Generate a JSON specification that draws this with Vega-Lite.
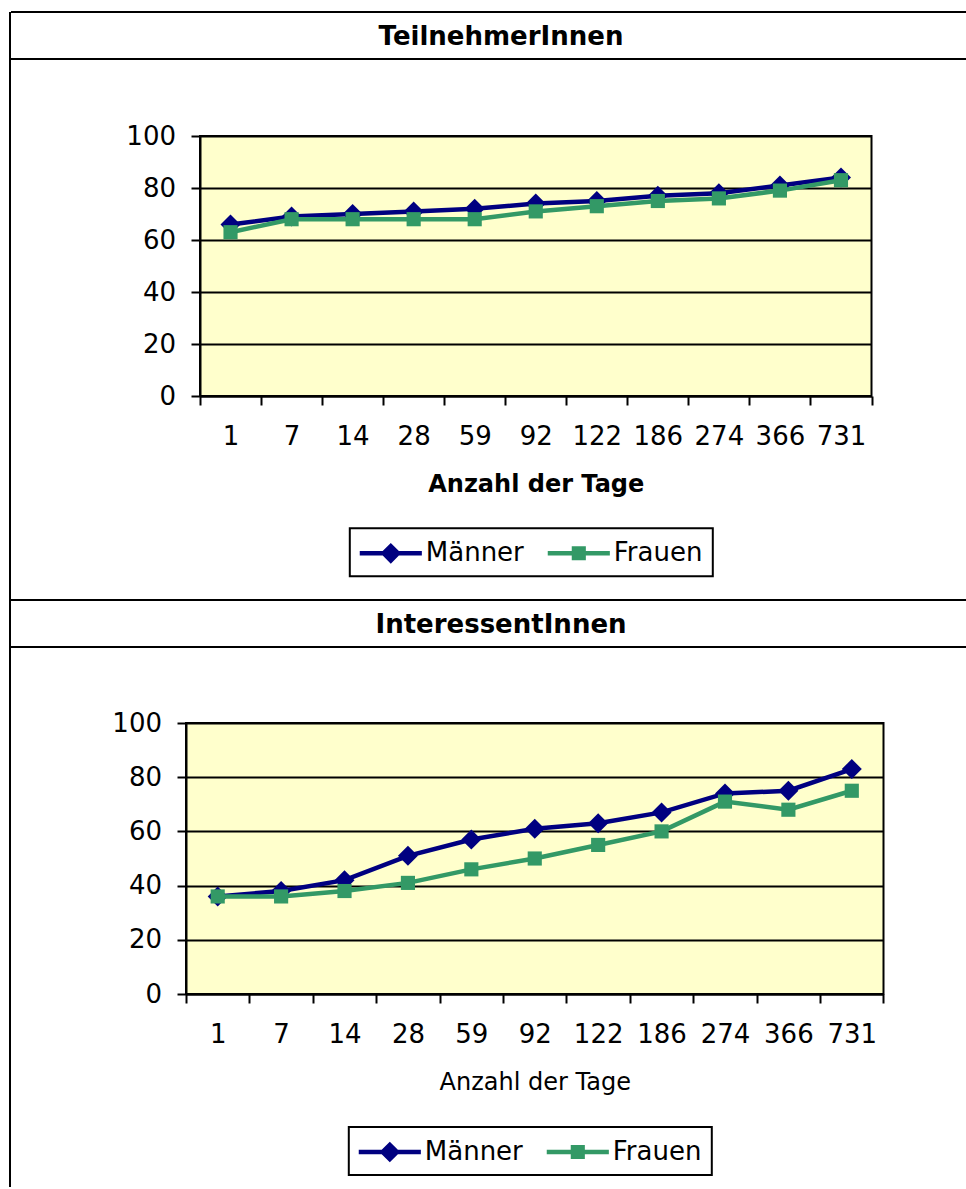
{
  "$schema": "https://vega.github.io/schema/vega-lite/v6.json",
  "padding": {"left": 9, "top": 11, "right": 0, "bottom": 0},
  "background": "white",
  "datasets": {
    "anteile": [
      {"gruppe": "TeilnehmerInnen", "geschlecht": "Männer", "tage": "1", "anteil": 66},
      {"gruppe": "TeilnehmerInnen", "geschlecht": "Männer", "tage": "7", "anteil": 69},
      {"gruppe": "TeilnehmerInnen", "geschlecht": "Männer", "tage": "14", "anteil": 70},
      {"gruppe": "TeilnehmerInnen", "geschlecht": "Männer", "tage": "28", "anteil": 71},
      {"gruppe": "TeilnehmerInnen", "geschlecht": "Männer", "tage": "59", "anteil": 72},
      {"gruppe": "TeilnehmerInnen", "geschlecht": "Männer", "tage": "92", "anteil": 74},
      {"gruppe": "TeilnehmerInnen", "geschlecht": "Männer", "tage": "122", "anteil": 75},
      {"gruppe": "TeilnehmerInnen", "geschlecht": "Männer", "tage": "186", "anteil": 77},
      {"gruppe": "TeilnehmerInnen", "geschlecht": "Männer", "tage": "274", "anteil": 78},
      {"gruppe": "TeilnehmerInnen", "geschlecht": "Männer", "tage": "366", "anteil": 81},
      {"gruppe": "TeilnehmerInnen", "geschlecht": "Männer", "tage": "731", "anteil": 84},
      {"gruppe": "TeilnehmerInnen", "geschlecht": "Frauen", "tage": "1", "anteil": 63},
      {"gruppe": "TeilnehmerInnen", "geschlecht": "Frauen", "tage": "7", "anteil": 68},
      {"gruppe": "TeilnehmerInnen", "geschlecht": "Frauen", "tage": "14", "anteil": 68},
      {"gruppe": "TeilnehmerInnen", "geschlecht": "Frauen", "tage": "28", "anteil": 68},
      {"gruppe": "TeilnehmerInnen", "geschlecht": "Frauen", "tage": "59", "anteil": 68},
      {"gruppe": "TeilnehmerInnen", "geschlecht": "Frauen", "tage": "92", "anteil": 71},
      {"gruppe": "TeilnehmerInnen", "geschlecht": "Frauen", "tage": "122", "anteil": 73},
      {"gruppe": "TeilnehmerInnen", "geschlecht": "Frauen", "tage": "186", "anteil": 75},
      {"gruppe": "TeilnehmerInnen", "geschlecht": "Frauen", "tage": "274", "anteil": 76},
      {"gruppe": "TeilnehmerInnen", "geschlecht": "Frauen", "tage": "366", "anteil": 79},
      {"gruppe": "TeilnehmerInnen", "geschlecht": "Frauen", "tage": "731", "anteil": 83},
      {"gruppe": "InteressentInnen", "geschlecht": "Männer", "tage": "1", "anteil": 36},
      {"gruppe": "InteressentInnen", "geschlecht": "Männer", "tage": "7", "anteil": 38},
      {"gruppe": "InteressentInnen", "geschlecht": "Männer", "tage": "14", "anteil": 42},
      {"gruppe": "InteressentInnen", "geschlecht": "Männer", "tage": "28", "anteil": 51},
      {"gruppe": "InteressentInnen", "geschlecht": "Männer", "tage": "59", "anteil": 57},
      {"gruppe": "InteressentInnen", "geschlecht": "Männer", "tage": "92", "anteil": 61},
      {"gruppe": "InteressentInnen", "geschlecht": "Männer", "tage": "122", "anteil": 63},
      {"gruppe": "InteressentInnen", "geschlecht": "Männer", "tage": "186", "anteil": 67},
      {"gruppe": "InteressentInnen", "geschlecht": "Männer", "tage": "274", "anteil": 74},
      {"gruppe": "InteressentInnen", "geschlecht": "Männer", "tage": "366", "anteil": 75},
      {"gruppe": "InteressentInnen", "geschlecht": "Männer", "tage": "731", "anteil": 83},
      {"gruppe": "InteressentInnen", "geschlecht": "Frauen", "tage": "1", "anteil": 36},
      {"gruppe": "InteressentInnen", "geschlecht": "Frauen", "tage": "7", "anteil": 36},
      {"gruppe": "InteressentInnen", "geschlecht": "Frauen", "tage": "14", "anteil": 38},
      {"gruppe": "InteressentInnen", "geschlecht": "Frauen", "tage": "28", "anteil": 41},
      {"gruppe": "InteressentInnen", "geschlecht": "Frauen", "tage": "59", "anteil": 46},
      {"gruppe": "InteressentInnen", "geschlecht": "Frauen", "tage": "92", "anteil": 50},
      {"gruppe": "InteressentInnen", "geschlecht": "Frauen", "tage": "122", "anteil": 55},
      {"gruppe": "InteressentInnen", "geschlecht": "Frauen", "tage": "186", "anteil": 60},
      {"gruppe": "InteressentInnen", "geschlecht": "Frauen", "tage": "274", "anteil": 71},
      {"gruppe": "InteressentInnen", "geschlecht": "Frauen", "tage": "366", "anteil": 68},
      {"gruppe": "InteressentInnen", "geschlecht": "Frauen", "tage": "731", "anteil": 75}
    ]
  },
  "spacing": 0,
  "bounds": "flush",
  "resolve": {"scale": {"color": "independent", "shape": "independent"}, "legend": {"color": "independent", "shape": "independent"}},
  "hconcat": [
    {
      "data": {"values": []},
      "mark": {"type": "point", "opacity": 0},
      "width": 1,
      "height": 1175,
      "view": {"stroke": "black", "strokeWidth": 2, "strokeDash": [0, 1177, 1175]}
    },
    {
      "spacing": 0,
      "bounds": "flush",
      "resolve": {"scale": {"color": "independent", "shape": "independent"}, "legend": {"color": "independent", "shape": "independent"}},
      "vconcat": [
        {
          "data": {"values": [{"titel": "TeilnehmerInnen"}]},
          "mark": {"type": "text", "font": "DejaVu Sans", "fontSize": 26, "fontWeight": "bold", "color": "black", "dx": 12.5, "dy": 1.5},
          "encoding": {"text": {"field": "titel", "type": "nominal"}},
          "width": 955,
          "height": 47,
          "view": {"stroke": "black", "strokeWidth": 2, "strokeDash": [955, 47, 955, 100]}
        },
        {"data": {"values": []}, "mark": {"type": "point", "opacity": 0}, "width": 1, "height": 77},
        {
          "spacing": 0,
          "bounds": "flush",
          "resolve": {"scale": {"color": "independent", "shape": "independent"}, "legend": {"color": "independent", "shape": "independent"}},
          "hconcat": [
            {"data": {"values": []}, "mark": {"type": "point", "opacity": 0}, "width": 188.5, "height": 260},
            {
              "width": 671.5,
              "height": 260,
              "view": {"stroke": "black", "strokeWidth": 2, "fill": "#FFFFCC"},
              "data": {"name": "anteile"},
              "transform": [{"filter": "datum.gruppe === 'TeilnehmerInnen'"}],
              "encoding": {
                "x": {
                  "field": "tage", "type": "ordinal",
                  "sort": ["1", "7", "14", "28", "59", "92", "122", "186", "274", "366", "731"],
                  "scale": {"type": "band", "paddingInner": 0, "paddingOuter": 0},
                  "axis": {"title": "Anzahl der Tage", "titleFontWeight": "bold"}
                },
                "y": {
                  "field": "anteil", "type": "quantitative",
                  "scale": {"domain": [0, 100]},
                  "axis": {"title": null, "values": [0, 20, 40, 60, 80, 100]}
                },
                "color": {
                  "field": "geschlecht", "type": "nominal",
                  "scale": {"domain": ["Männer", "Frauen"], "range": ["#000080", "#339966"]},
                  "legend": {"title": null, "orient": "none", "legendX": 149.8, "legendY": 392.3, "direction": "horizontal"}
                }
              },
              "layer": [
                {"transform": [{"filter": "datum.geschlecht === 'Männer'"}], "mark": {"type": "line", "strokeWidth": 4.5}},
                {"transform": [{"filter": "datum.geschlecht === 'Männer'"}], "mark": {"type": "point", "shape": "diamond", "filled": true, "opacity": 1, "size": 400}},
                {"transform": [{"filter": "datum.geschlecht === 'Frauen'"}], "mark": {"type": "line", "strokeWidth": 4.5}},
                {"transform": [{"filter": "datum.geschlecht === 'Frauen'"}], "mark": {"type": "point", "shape": "square", "filled": true, "opacity": 1, "size": 200}},
                {
                  "mark": {"type": "point", "filled": true, "opacity": 0},
                  "encoding": {
                    "shape": {
                      "field": "geschlecht", "type": "nominal",
                      "scale": {
                        "domain": ["Männer", "Frauen"],
                        "range": [
                          "M-2.07,-0.15L-0.54,-0.15L0,-0.69L0.54,-0.15L2.07,-0.15L2.07,0.15L0.54,0.15L0,0.69L-0.54,0.15L-2.07,0.15Z",
                          "M-2.07,-0.15L-0.47,-0.15L-0.47,-0.47L0.47,-0.47L0.47,-0.15L2.07,-0.15L2.07,0.15L0.47,0.15L0.47,0.47L-0.47,0.47L-0.47,0.15L-2.07,0.15Z"
                        ]
                      },
                      "legend": {"title": null, "orient": "none", "legendX": 149.8, "legendY": 392.3, "direction": "horizontal"}
                    }
                  }
                }
              ]
            }
          ]
        },
        {"data": {"values": []}, "mark": {"type": "point", "opacity": 0}, "width": 1, "height": 464},
        {
          "data": {"values": [{"titel": "InteressentInnen"}]},
          "mark": {"type": "text", "font": "DejaVu Sans", "fontSize": 26, "fontWeight": "bold", "color": "black", "dx": 12.5, "dy": 1.5},
          "encoding": {"text": {"field": "titel", "type": "nominal"}},
          "width": 955,
          "height": 47,
          "view": {"stroke": "black", "strokeWidth": 2, "strokeDash": [955, 47, 955, 100]}
        },
        {"data": {"values": []}, "mark": {"type": "point", "opacity": 0}, "width": 1, "height": 76},
        {
          "spacing": 0,
          "bounds": "flush",
          "resolve": {"scale": {"color": "independent", "shape": "independent"}, "legend": {"color": "independent", "shape": "independent"}},
          "hconcat": [
            {"data": {"values": []}, "mark": {"type": "point", "opacity": 0}, "width": 174.5, "height": 271},
            {
              "width": 697.5,
              "height": 271,
              "view": {"stroke": "black", "strokeWidth": 2, "fill": "#FFFFCC"},
              "data": {"name": "anteile"},
              "transform": [{"filter": "datum.gruppe === 'InteressentInnen'"}],
              "encoding": {
                "x": {
                  "field": "tage", "type": "ordinal",
                  "sort": ["1", "7", "14", "28", "59", "92", "122", "186", "274", "366", "731"],
                  "scale": {"type": "band", "paddingInner": 0, "paddingOuter": 0},
                  "axis": {"title": "Anzahl der Tage", "titleFontWeight": "normal"}
                },
                "y": {
                  "field": "anteil", "type": "quantitative",
                  "scale": {"domain": [0, 100]},
                  "axis": {"title": null, "values": [0, 20, 40, 60, 80, 100]}
                },
                "color": {
                  "field": "geschlecht", "type": "nominal",
                  "scale": {"domain": ["Männer", "Frauen"], "range": ["#000080", "#339966"]},
                  "legend": {"title": null, "orient": "none", "legendX": 162.8, "legendY": 404, "direction": "horizontal"}
                }
              },
              "layer": [
                {"transform": [{"filter": "datum.geschlecht === 'Männer'"}], "mark": {"type": "line", "strokeWidth": 4.5}},
                {"transform": [{"filter": "datum.geschlecht === 'Männer'"}], "mark": {"type": "point", "shape": "diamond", "filled": true, "opacity": 1, "size": 400}},
                {"transform": [{"filter": "datum.geschlecht === 'Frauen'"}], "mark": {"type": "line", "strokeWidth": 4.5}},
                {"transform": [{"filter": "datum.geschlecht === 'Frauen'"}], "mark": {"type": "point", "shape": "square", "filled": true, "opacity": 1, "size": 200}},
                {
                  "mark": {"type": "point", "filled": true, "opacity": 0},
                  "encoding": {
                    "shape": {
                      "field": "geschlecht", "type": "nominal",
                      "scale": {
                        "domain": ["Männer", "Frauen"],
                        "range": [
                          "M-2.07,-0.15L-0.54,-0.15L0,-0.69L0.54,-0.15L2.07,-0.15L2.07,0.15L0.54,0.15L0,0.69L-0.54,0.15L-2.07,0.15Z",
                          "M-2.07,-0.15L-0.47,-0.15L-0.47,-0.47L0.47,-0.47L0.47,-0.15L2.07,-0.15L2.07,0.15L0.47,0.15L0.47,0.47L-0.47,0.47L-0.47,0.15L-2.07,0.15Z"
                        ]
                      },
                      "legend": {"title": null, "orient": "none", "legendX": 162.8, "legendY": 404, "direction": "horizontal"}
                    }
                  }
                }
              ]
            }
          ]
        },
        {"data": {"values": []}, "mark": {"type": "point", "opacity": 0}, "width": 1, "height": 461}
      ]
    }
  ],
  "config": {
    "font": "DejaVu Sans",
    "view": {"stroke": null},
    "axis": {
      "domainColor": "black", "domainWidth": 2,
      "tickColor": "black", "tickWidth": 2, "tickSize": 9,
      "labelFont": "DejaVu Sans", "labelFontSize": 26, "labelColor": "black",
      "titleFont": "DejaVu Sans", "titleFontSize": 24, "titleColor": "black",
      "gridColor": "black", "gridWidth": 2, "gridOpacity": 1
    },
    "axisX": {"grid": false, "tickBand": "extent", "labelAngle": 0, "labelPadding": 18, "titlePadding": 23},
    "axisY": {"grid": true, "labelPadding": 15.5},
    "legend": {
      "labelFont": "DejaVu Sans", "labelFontSize": 26, "labelColor": "black",
      "strokeColor": "black", "strokeWidth": 2, "padding": 10, "symbolSize": 900,
      "symbolOpacity": 1, "symbolStrokeWidth": 0, "symbolOffset": 16,
      "labelOffset": 20, "columnPadding": 22
    }
  }
}
